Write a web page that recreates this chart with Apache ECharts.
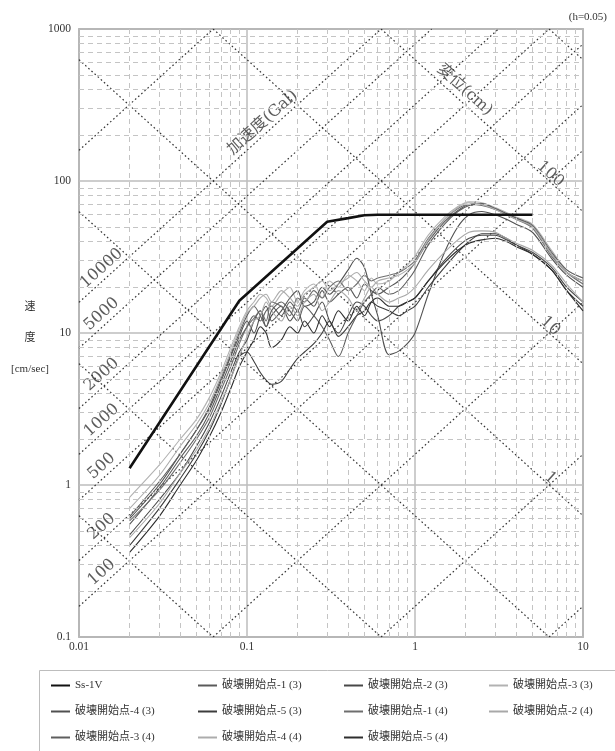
<!DOCTYPE html>
<html>
<head>
<meta charset="utf-8">
<script src="https://cdn.jsdelivr.net/npm/echarts@6/dist/echarts.min.js"></script>
<style>
html, body { margin: 0; padding: 0; background: #fff; }
#chart { width: 615px; height: 751px; }
</style>
</head>
<body>
<div id="chart"></div>
<script>
// periods (sec) shared by the simulated spectra
const periods = [0.02,0.03,0.04,0.05,0.06,0.07,0.08,0.09,0.10,0.11,0.12,0.13,0.14,
  0.16,0.18,0.20,0.22,0.25,0.28,0.31,0.35,0.40,0.45,0.50,0.55,0.60,
  0.70,0.80,0.90,1.0,
  1.2,1.5,1.8,2.1,2.5,3.0,3.5,4.0,5.0,6.5,8.0,10];

// design spectrum Ss-1V
const ssPeriods = [0.02, 0.09, 0.3, 0.4, 0.5, 0.6, 5.0];
const ssValues  = [1.29, 16.3, 54, 57, 59.5, 60, 60];

// velocity response spectra (cm/sec)
const case1_3 = [0.55,0.95,1.5,2.1,3.0,4.5,6.5,9.0,11,13,12,14,15,
  13,16,14,17,15,19,16,18,20,17,21,19,18,
  20,22,25,29,
  40,54,64,70,71,66,61,57,50,33,25,22];
const case2_3 = [0.47,0.80,1.2,1.8,2.6,3.8,5.5,7.5,9,12,14,11,13,
  15,12,14,11,13,16,12,10,13,16,15,13,12,
  13,15,16,17,
  22,30,37,42,44,44,41,38,34,27,20,16];
const case3_3 = [0.83,1.35,2.0,2.7,3.8,5.5,8,11,14,16,18,17,15,
  18,20,16,19,21,17,22,20,24,22,19,23,21,
  22,25,28,32,
  44,58,68,73,72,67,62,58,52,35,26,23];
const case4_3 = [0.60,1.0,1.6,2.3,3.2,4.8,7,9.5,12,10,13,15,12,
  14,17,19,15,16,20,18,21,26,31,27,18,13,
  7.2,7.6,8.5,10,
  18,34,50,60,63,60,56,52,46,31,24,20];
const case5_3 = [0.40,0.70,1.1,1.6,2.3,3.4,5.0,7.0,7.5,6.5,5.5,4.9,4.6,
  4.8,5.8,6.8,7.5,8.5,10,12,9.5,11,13,14,16,15,
  14,13,14,15,
  20,27,34,40,45,45,42,38,33,26,19,15];
const case1_4 = [0.58,0.92,1.4,2.0,2.8,4.2,6,8.5,11,12.5,14,12,16,
  15,13,17,16,19,17,20,22,19,21,24,22,23,
  24,25,27,30,
  42,56,66,70,69,65,60,56,49,32,25,21];
const case2_4 = [0.45,0.75,1.2,1.7,2.4,3.5,5,7,9.5,12,13,16,14,
  12,15,13,16,18,14,16,19,17,14,17,20,18,
  16,17,18,20,
  26,34,41,46,47,46,42,39,35,28,21,16];
const case3_4 = [0.62,1.05,1.6,2.3,3.3,5.0,7.2,10,13,15,13,11,14,
  16,14,12,15,13,11,9,7,10,13,16,18,20,
  18,19,22,26,
  38,52,63,69,71,66,61,57,51,34,26,23];
const case4_4 = [0.70,1.15,1.8,2.5,3.5,5.2,7.5,10.5,13.5,15,17,18,16,
  19,17,15,18,20,22,19,21,23,25,22,20,22,
  23,24,26,29,
  41,56,67,72,70,65,60,56,50,33,25,22];
const case5_4 = [0.36,0.62,1.0,1.45,2.1,3.0,4.3,6,7.5,9,11,10,8,
  9,11,10,12,10,13,11,14,12,15,13,16,17,
  15,15,16,17,
  22,29,35,39,41,42,40,37,33,26,19,14];

const seriesNames = ['Ss-1V',
  '破壊開始点-1 (3)','破壊開始点-2 (3)','破壊開始点-3 (3)','破壊開始点-4 (3)','破壊開始点-5 (3)',
  '破壊開始点-1 (4)','破壊開始点-2 (4)','破壊開始点-3 (4)','破壊開始点-4 (4)','破壊開始点-5 (4)'];
const caseValues = [case1_3, case2_3, case3_3, case4_3, case5_3, case1_4, case2_4, case3_4, case4_4, case5_4];
const caseColors = ['#5a5a5a','#484848','#b2b2b2','#505050','#3c3c3c','#6e6e6e','#a8a8a8','#5e5e5e','#acacac','#2e2e2e'];

// tripartite guide lines
const accelLines = [0.1, 1, 10, 100, 200, 500, 1000, 2000, 5000, 10000, 100000]; // Gal
const accelLabels = [100, 200, 500, 1000, 2000, 5000, 10000];
const dispLines = [0.001, 0.01, 0.1, 1, 10, 100, 1000]; // cm
const dispLabels = [1, 10, 100];
const minorSteps = [2,3,4,5,6,7,8,9];

const T_MIN = 0.01, T_MAX = 10, V_MIN = 0.1, V_MAX = 1000;
const W = 2 * Math.PI;
const serif = "'Liberation Serif', 'Noto Sans CJK JP'";
const labelFont = "'DejaVu Serif', 'Noto Sans CJK JP'";

function accelSegment(sa) {
  const t1 = Math.max(T_MIN, W * V_MIN / sa);
  const t2 = Math.min(T_MAX, W * V_MAX / sa);
  return [[t1, sa * t1 / W], [t2, sa * t2 / W]];
}
function dispSegment(sd) {
  const t1 = Math.max(T_MIN, W * sd / V_MAX);
  const t2 = Math.min(T_MAX, W * sd / V_MIN);
  return [[t1, W * sd / t1], [t2, W * sd / t2]];
}

const minorX = [], minorY = [];
[0.01, 0.1, 1].forEach(d => minorSteps.forEach(m => minorX.push({ xAxis: +(d * m).toPrecision(3) })));
[0.1, 1, 10, 100].forEach(d => minorSteps.forEach(m => minorY.push({ yAxis: +(d * m).toPrecision(3) })));

const guideStyle = { color: '#333', width: 1.2, type: [1.6, 2.6] };
let series = [];

accelLines.forEach((sa, i) => {
  series.push({
    type: 'line', name: 'acc' + sa, data: accelSegment(sa), symbol: 'none', silent: true,
    lineStyle: guideStyle, z: 1,
    markLine: i === 0 ? {
      silent: true, symbol: ['none', 'none'], label: { show: false },
      lineStyle: { color: '#c4c4c4', width: 1, type: [5, 4] },
      data: minorX.concat(minorY), animation: false
    } : undefined
  });
});
dispLines.forEach(sd => {
  series.push({
    type: 'line', name: 'disp' + sd, data: dispSegment(sd), symbol: 'none', silent: true,
    lineStyle: guideStyle, z: 1
  });
});

// labels on guide lines (offsets are in the rotated text frame)
const tA = 0.0135;
series.push({
  type: 'scatter', name: 'accLabels', symbolSize: 0, silent: true, z: 3,
  data: accelLabels.map(sa => [tA, sa * tA / W, String(sa)])
    .concat([[0.1228, 10000 * 0.1228 / W, '加速度(Gal)']]),
  label: {
    show: true, position: 'inside', rotate: 42, offset: [10, -10],
    formatter: p => p.data[2], fontSize: 16, color: '#333', fontFamily: labelFont
  }
});
const tD = 6.3;
series.push({
  type: 'scatter', name: 'dispLabels', symbolSize: 0, silent: true, z: 3,
  data: dispLabels.map(sd => ({ value: [tD, W * sd / tD, String(sd)] }))
    .concat([{ value: [1.98, W * 100 / 1.98, '変位(cm)'], label: { offset: [-10, -11] } }]),
  label: {
    show: true, position: 'inside', rotate: -42, offset: [-4, -6],
    formatter: p => p.data.value ? p.data.value[2] : p.data[2], fontSize: 16, color: '#333', fontFamily: labelFont
  }
});

// spectra
caseValues.forEach((vals, i) => {
  series.push({
    type: 'line', name: seriesNames[i + 1], symbol: 'none', smooth: 0.3, z: 4,
    data: periods.map((t, k) => [t, vals[k]]),
    lineStyle: { color: caseColors[i], width: 1.1 }, itemStyle: { color: caseColors[i] }
  });
});
series.push({
  type: 'line', name: seriesNames[0], symbol: 'none', z: 5,
  data: ssPeriods.map((t, k) => [t, ssValues[k]]),
  lineStyle: { color: '#111', width: 2.6 }, itemStyle: { color: '#111' }
});

const legendCols = [
  [seriesNames[0], seriesNames[4], seriesNames[8]],
  [seriesNames[1], seriesNames[5], seriesNames[9]],
  [seriesNames[2], seriesNames[6], seriesNames[10]],
  [seriesNames[3], seriesNames[7]]
];
const legendLeft = [50, 197, 343, 488];

const chart = echarts.init(document.getElementById('chart'));
chart.setOption({
  animation: false,
  title: {
    text: '(h=0.05)', right: 3, top: 7,
    textStyle: { fontSize: 11, fontWeight: 'normal', color: '#333', fontFamily: serif }
  },
  grid: {
    left: 79, right: 32, top: 29, bottom: 114,
    show: true, borderColor: '#8a8a8a', borderWidth: 1.5, backgroundColor: '#fff'
  },
  xAxis: {
    type: 'log', logBase: 10, min: T_MIN, max: T_MAX,
    axisLine: { show: false }, axisTick: { show: false },
    axisLabel: { fontSize: 11.5, color: '#333', fontFamily: serif, margin: 4, formatter: v => String(v) },
    splitLine: { show: true, lineStyle: { color: '#bdbdbd', width: 1.5 } }
  },
  yAxis: {
    type: 'log', logBase: 10, min: V_MIN, max: V_MAX,
    name: '{gap| }\n速\n度\n[cm/sec]', nameLocation: 'middle', nameRotate: 0, nameGap: 49,
    nameMoveOverlap: false,
    nameTextStyle: {
      fontSize: 11, color: '#333', fontFamily: serif, lineHeight: 31, align: 'center', verticalAlign: 'middle',
      rich: { gap: { lineHeight: 10, fontSize: 2 } }
    },
    axisLine: { show: false }, axisTick: { show: false },
    axisLabel: { fontSize: 11.5, color: '#333', fontFamily: serif, margin: 8, formatter: v => String(v) },
    splitLine: { show: true, lineStyle: { color: '#bdbdbd', width: 1.5 } }
  },
  legend: legendCols.map((col, i) => ({
    data: col, orient: 'vertical', left: legendLeft[i], top: 680,
    itemWidth: 19, itemHeight: 10, itemGap: 15, padding: 0,
    itemStyle: { opacity: 0 },
    textStyle: { fontSize: 11, color: '#333', fontFamily: serif }
  })),
  graphic: [{
    type: 'rect', left: 37, top: 668, silent: true,
    shape: { width: 600, height: 100 },
    style: { fill: 'none', stroke: '#bdbdbd', lineWidth: 1 }
  }],
  series: series
});
</script>
</body>
</html>
